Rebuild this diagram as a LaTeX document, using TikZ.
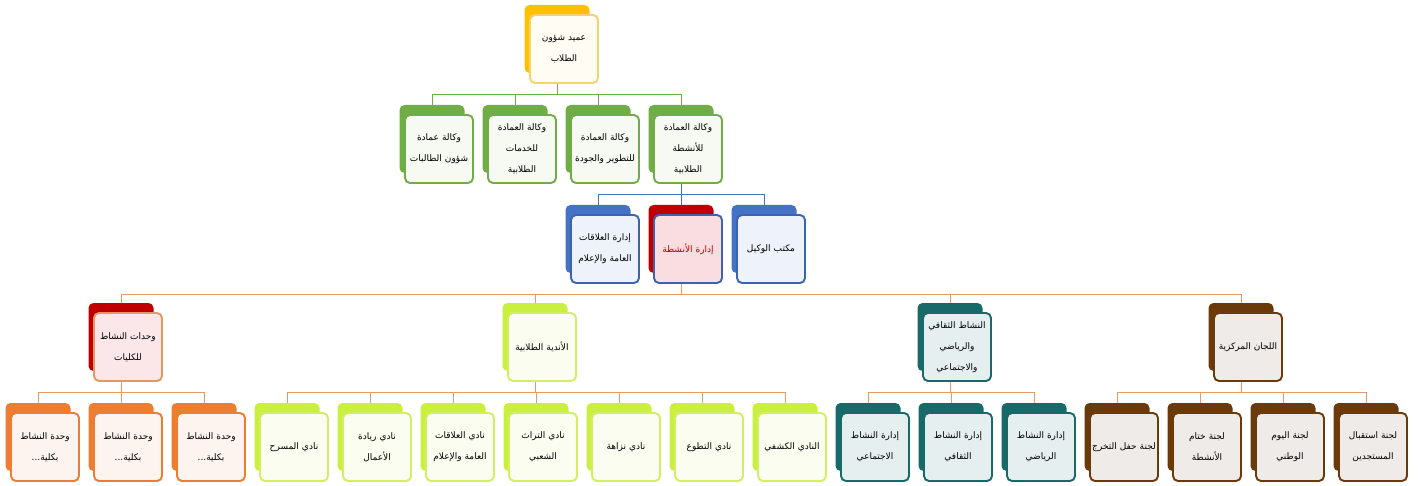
\documentclass[tikz,border=0pt]{standalone}
\usepackage{fontspec}
\usetikzlibrary{positioning,backgrounds}
\newfontfamily\arabicfont[Script=Arabic]{DejaVu Sans}
\TeXXeTstate=1

\definecolor{yelback}{HTML}{FFC000}
\definecolor{yeledge}{HTML}{F3D36E}
\definecolor{yelfill}{HTML}{FFFDF3}
\definecolor{grnback}{HTML}{70AD47}
\definecolor{grnfill}{HTML}{F6FAF3}
\definecolor{bluback}{HTML}{4472C4}
\definecolor{bluedge}{HTML}{3D63AE}
\definecolor{blufill}{HTML}{EEF2FA}
\definecolor{redback}{HTML}{C00000}
\definecolor{redfill}{HTML}{FADDE0}
\definecolor{orgback}{HTML}{ED7D31}
\definecolor{orgedge}{HTML}{E39A60}
\definecolor{orgfill}{HTML}{FDF4EF}
\definecolor{limback}{HTML}{CBEF3E}
\definecolor{limedge}{HTML}{D2EE62}
\definecolor{limfill}{HTML}{FBFDF0}
\definecolor{tealback}{HTML}{176A67}
\definecolor{tealfill}{HTML}{E5EFEF}
\definecolor{brnback}{HTML}{6B3A0B}
\definecolor{brnfill}{HTML}{EEEBE9}
\definecolor{lineorg}{HTML}{E59B63}

\newcommand{\artx}[1]{\beginR #1\endR}
\newcommand{\orgbox}[5]{%
  \node[backbox, fill=#3] (#1-b) at (#2) {};
  \node[frontbox, #4, xshift=7pt, yshift=-10pt] (#1) at (#2) {#5};}

\tikzset{
  backbox/.style={rounded corners=5pt, minimum width=65pt, minimum height=68pt, inner sep=0pt},
  frontbox/.style={draw, rounded corners=5pt, line width=1.9pt, minimum width=68pt,
    minimum height=68pt, text width=66pt, align=center, inner sep=0pt,
    font=\arabicfont\fontsize{9}{21}\selectfont},
  yelbox/.style={draw=yeledge, fill=yelfill},
  grnbox/.style={draw=grnback, fill=grnfill},
  blubox/.style={draw=bluedge, fill=blufill},
  redbox/.style={draw=bluedge, fill=redfill, text=redback},
  unitbox/.style={draw=orgedge, fill=redfill!70},
  orgbox/.style={draw=orgback, fill=orgfill},
  limbox/.style={draw=limedge, fill=limfill},
  tealbox/.style={draw=tealback, fill=tealfill},
  brnbox/.style={draw=brnback, fill=brnfill},
  link/.style={line width=2pt},
}

\begin{document}
\begin{tikzpicture}[x=1pt, y=-1pt]
\useasboundingbox (0,0) rectangle (1420,486);

% dean
\orgbox{dean}{557,39}{yelback}{yelbox}{\artx{عميد شؤون}\\\artx{الطلاب}}

% vice deans
\orgbox{vk1}{432,139}{grnback}{grnbox}{\artx{وكالة عمادة}\\\artx{شؤون الطالبات}}
\orgbox{vk2}{515,139}{grnback}{grnbox}{\artx{وكالة العمادة}\\\artx{للخدمات}\\\artx{الطلابية}}
\orgbox{vk3}{598,139}{grnback}{grnbox}{\artx{وكالة العمادة}\\\artx{للتطوير والجودة}}
\orgbox{vk4}{681,139}{grnback}{grnbox}{\artx{وكالة العمادة}\\\artx{للأنشطة}\\\artx{الطلابية}}

% departments
\orgbox{dep1}{598,239}{bluback}{blubox}{\artx{إدارة العلاقات}\\\artx{العامة والإعلام}}
\orgbox{dep2}{681,239}{redback}{redbox}{\artx{إدارة الأنشطة}}
\orgbox{dep3}{764,239}{bluback}{blubox}{\artx{مكتب الوكيل}}

% sections
\orgbox{sec1}{121,337}{redback}{unitbox}{\artx{وحدات النشاط}\\\artx{للكليات}}
\orgbox{sec2}{535,337}{limback}{limbox}{\artx{الأندية الطلابية}}
\orgbox{sec3}{950,337}{tealback}{tealbox}{\artx{النشاط الثقافي}\\\artx{والرياضي}\\\artx{والاجتماعي}}
\orgbox{sec4}{1241,337}{brnback}{brnbox}{\artx{اللجان المركزية}}

% units
\orgbox{u1}{38,437}{orgback}{orgbox}{\artx{وحدة النشاط}\\\artx{بكلية...}}
\orgbox{u2}{121,437}{orgback}{orgbox}{\artx{وحدة النشاط}\\\artx{بكلية...}}
\orgbox{u3}{204,437}{orgback}{orgbox}{\artx{وحدة النشاط}\\\artx{بكلية...}}
\orgbox{u4}{287,437}{limback}{limbox}{\artx{نادي المسرح}}
\orgbox{u5}{370,437}{limback}{limbox}{\artx{نادي ريادة}\\\artx{الأعمال}}
\orgbox{u6}{453,437}{limback}{limbox}{\artx{نادي العلاقات}\\\artx{العامة والإعلام}}
\orgbox{u7}{536,437}{limback}{limbox}{\artx{نادي التراث}\\\artx{الشعبي}}
\orgbox{u8}{619,437}{limback}{limbox}{\artx{نادي نزاهة}}
\orgbox{u9}{702,437}{limback}{limbox}{\artx{نادي التطوع}}
\orgbox{u10}{785,437}{limback}{limbox}{\artx{النادي الكشفي}}
\orgbox{u11}{868,437}{tealback}{tealbox}{\artx{إدارة النشاط}\\\artx{الاجتماعي}}
\orgbox{u12}{951,437}{tealback}{tealbox}{\artx{إدارة النشاط}\\\artx{الثقافي}}
\orgbox{u13}{1034,437}{tealback}{tealbox}{\artx{إدارة النشاط}\\\artx{الرياضي}}
\orgbox{u14}{1117,437}{brnback}{brnbox}{\artx{لجنة حفل التخرج}}
\orgbox{u15}{1200,437}{brnback}{brnbox}{\artx{لجنة ختام}\\\artx{الأنشطة}}
\orgbox{u16}{1283,437}{brnback}{brnbox}{\artx{لجنة اليوم}\\\artx{الوطني}}
\orgbox{u17}{1366,437}{brnback}{brnbox}{\artx{لجنة استقبال}\\\artx{المستجدين}}

% connectors
\begin{scope}[on background layer, link]
\draw[grnback] (dean-b |- dean.south) -- ++(0,10) coordinate (jdean);
\draw[grnback] (jdean -| vk1-b) -- (jdean -| vk4-b);
\foreach \n in {vk1,vk2,vk3,vk4}
  \draw[grnback] (jdean -| \n-b) -- (\n-b.north);

\draw[bluback] (vk4-b |- vk4.south) -- ++(0,10) coordinate (jvk);
\draw[bluback] (jvk -| dep1-b) -- (jvk -| dep3-b);
\foreach \n in {dep1,dep2,dep3}
  \draw[bluback] (jvk -| \n-b) -- (\n-b.north);

\draw[lineorg] (dep2-b |- dep2.south) -- ++(0,10) coordinate (jdep);
\draw[lineorg] (jdep -| sec1-b) -- (jdep -| sec4-b);
\foreach \n in {sec1,sec2,sec3,sec4}
  \draw[lineorg] (jdep -| \n-b) -- (\n-b.north);

\draw[lineorg] (sec1-b |- sec1.south) -- ++(0,10) coordinate (js1);
\draw[lineorg] (js1 -| u1-b) -- (js1 -| u3-b);
\draw[lineorg] (sec2-b |- sec2.south) -- ++(0,10) coordinate (js2);
\draw[lineorg] (js2 -| u4-b) -- (js2 -| u10-b);
\draw[lineorg] (sec3-b |- sec3.south) -- ++(0,10) coordinate (js3);
\draw[lineorg] (js3 -| u11-b) -- (js3 -| u13-b);
\draw[lineorg] (sec4-b |- sec4.south) -- ++(0,10) coordinate (js4);
\draw[lineorg] (js4 -| u14-b) -- (js4 -| u17-b);
\foreach \n in {u1,u2,u3}
  \draw[lineorg] (js1 -| \n-b) -- (\n-b.north);
\foreach \n in {u4,u5,u6,u7,u8,u9,u10}
  \draw[lineorg] (js2 -| \n-b) -- (\n-b.north);
\foreach \n in {u11,u12,u13}
  \draw[lineorg] (js3 -| \n-b) -- (\n-b.north);
\foreach \n in {u14,u15,u16,u17}
  \draw[lineorg] (js4 -| \n-b) -- (\n-b.north);
\end{scope}
\end{tikzpicture}
\end{document}
